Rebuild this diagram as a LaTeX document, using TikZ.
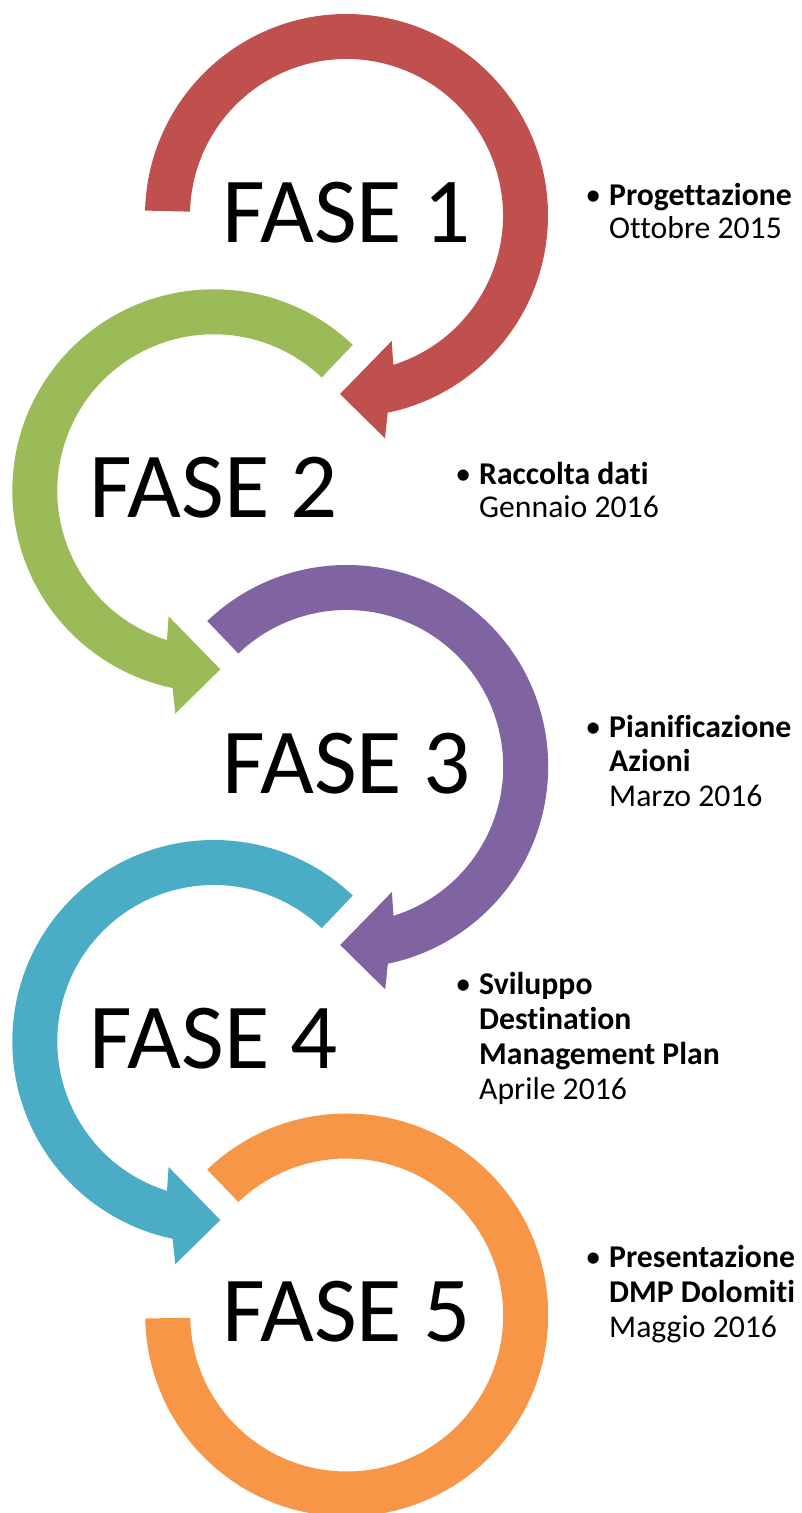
\documentclass[tikz,border=0pt]{standalone}
\usepackage{fontspec}
\setmainfont{Carlito}[Ligatures=NoCommon]
\definecolor{cRed}{HTML}{C0504D}
\definecolor{cGreen}{HTML}{9BBB59}
\definecolor{cPurple}{HTML}{8064A2}
\definecolor{cAqua}{HTML}{4BACC6}
\definecolor{cOrange}{HTML}{F79646}
\newcommand\ringright[3]{% center, start angle, colour : arrow at bottom right, clockwise
  \fill[#3] ([shift={(#2:201.5pt)}]#1) arc[start angle=#2, end angle=-78.2, radius=201.5pt]
    -- ([shift={(38.5pt,-222.8pt)}]#1) -- ([shift={(-6.5pt,-178.5pt)}]#1)
    -- ([shift={(45.2pt,-125.5pt)}]#1) -- ([shift={(-72.6:156.5pt)}]#1)
    arc[start angle=-72.6, end angle=#2, radius=156.5pt] -- cycle;}
\newcommand\ringleft[3]{% center, start angle, colour : arrow at bottom right, counter-clockwise
  \fill[#3] ([shift={(#2:201.5pt)}]#1) arc[start angle=#2, end angle=258.2, radius=201.5pt]
    -- ([shift={(-38.5pt,-222.8pt)}]#1) -- ([shift={(6.5pt,-178.5pt)}]#1)
    -- ([shift={(-45.2pt,-125.5pt)}]#1) -- ([shift={(252.6:156.5pt)}]#1)
    arc[start angle=252.6, end angle=#2, radius=156.5pt] -- cycle;}
\tikzset{
  fase/.style={font=\fontsize{93}{100}\selectfont, inner sep=0pt, anchor=base, text=black},
  info/.style={inner sep=0pt, anchor=base west, text=black},
}
\newcommand\infotext[3]{\parbox[t]{320pt}{\fontsize{31.7}{#1}\selectfont\raggedright
  \leavevmode\llap{\textbullet\hspace{8pt}}\textbf{#2}\\#3}}
\begin{document}
\begin{tikzpicture}[x=1pt,y=1pt]
\useasboundingbox (0,0) rectangle (801,1513);
\coordinate (c1) at (346.5,1297.5);
\coordinate (c2) at (213.8,1022.2);
\coordinate (c3) at (346.7,746.5);
\coordinate (c4) at (213.8,471.5);
\coordinate (c5) at (346.7,198);
% rings (back to front)
\fill[cOrange] ([shift={(133.8:201.5pt)}]c5) arc[start angle=133.8, end angle=-179, radius=201.5pt]
  -- ([shift={(-179:156.5pt)}]c5) arc[start angle=-179, end angle=133.8, radius=156.5pt] -- cycle;
\ringleft{c4}{46.4}{cAqua}
\ringright{c3}{133.8}{cPurple}
\ringleft{c2}{46.4}{cGreen}
\ringright{c1}{178.6}{cRed}
% phase labels
\node[fase] (f1) at ([yshift=-27pt]c1) {FASE 1};
\node[fase] (f2) at ([yshift=-27pt]c2) {FASE 2};
\node[fase] (f3) at ([yshift=-27pt]c3) {FASE 3};
\node[fase] (f4) at ([yshift=-27pt]c4) {FASE 4};
\node[fase] (f5) at ([yshift=-27pt]c5) {FASE 5};
% descriptions
\node[info] (t1) at (609,1307) {\infotext{33}{Progettazione}{Ottobre 2015}};
\node[info] (t2) at (479,1028) {\infotext{33}{Raccolta dati}{Gennaio 2016}};
\node[info] (t3) at (609,775.7) {\infotext{34.7}{Pianificazione\\Azioni}{Marzo 2016}};
\node[info] (t4) at (479,518) {\infotext{35}{Sviluppo\\Destination\\Management Plan}{Aprile 2016}};
\node[info] (t5) at (609,245) {\infotext{35}{Presentazione\\DMP Dolomiti}{Maggio 2016}};
\end{tikzpicture}
\end{document}
